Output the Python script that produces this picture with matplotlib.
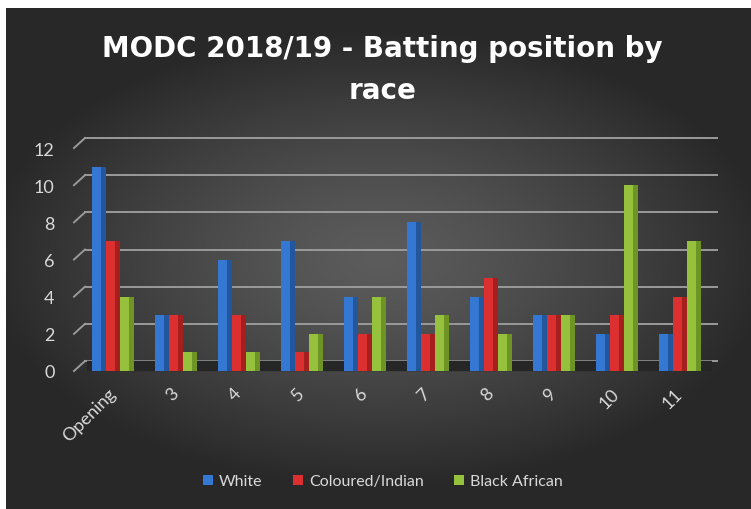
import numpy as np
import matplotlib
matplotlib.use("Agg")
import matplotlib.pyplot as plt
from matplotlib.transforms import offset_copy
from matplotlib.patches import Patch

# Batting position counts by race, MODC 2018/19
positions = ["Opening", "3", "4", "5", "6", "7", "8", "9", "10", "11"]
white = [11, 3, 6, 7, 4, 8, 4, 3, 2, 2]
coloured_indian = [7, 3, 3, 1, 2, 2, 5, 3, 3, 4]
black_african = [4, 1, 1, 2, 4, 3, 2, 3, 10, 7]
series_names = ["White", "Coloured/Indian", "Black African"]
y_ticks = [0, 2, 4, 6, 8, 10, 12]

face_colors = ["#3478d4", "#dc3030", "#96c13c"]
side_colors = ["#22579e", "#a51f1f", "#6f9426"]
text_color = "#d9d9d9"
grid_color = "#9a9a9a"

plt.rcParams["font.family"] = ["Lato", "DejaVu Sans"]

fig = plt.figure(figsize=(7.51, 5.10), dpi=100)
fig.patch.set_facecolor("white")

# dark radial gradient background
bg = fig.add_axes([6 / 751, 0, 1 - 6 / 751, 1 - 9 / 510], zorder=-10)
gx, gy = np.meshgrid(np.linspace(-1, 1, 400), np.linspace(-1, 1, 300))
r = np.clip(np.sqrt((gx * 0.95) ** 2 + (gy * 1.1) ** 2), 0, 1)
shade = 0.36 - 0.2 * r ** 1.3
bg.imshow(np.dstack([shade, shade, shade]), aspect="auto", extent=[0, 1, 0, 1])
bg.set_axis_off()

ax = fig.add_axes([74 / 751, 138 / 510, (711.5 - 74) / 751, (372 - 149) / 510])
ax.set_facecolor("none")
ax.set_xlim(-0.62, 9.5)
ax.set_ylim(0, 12)

back = offset_copy(ax.transData, fig=fig, x=11, y=10, units="dots")
mid = offset_copy(ax.transData, fig=fig, x=5.5, y=5, units="dots")

# back-wall gridlines with perspective stubs
for v in y_ticks:
    ax.plot([-0.62, 9.42], [v, v], transform=back, color=grid_color, lw=1.4, zorder=1, clip_on=False)
    ax.plot([-0.62, -0.62 + 11 / 63], [v, v + 10 / 18.6], color=grid_color, lw=1.4, zorder=1, clip_on=False)

# floor
ax.plot([-0.5, 9.42], [0, 0], transform=mid, color="#262626", lw=7.5,
        solid_capstyle="butt", zorder=2, clip_on=False)

x = np.arange(len(positions))
w = 0.22
for i, vals in enumerate([white, coloured_indian, black_african]):
    left = x + (i - 1) * w - w / 2
    # front face + darker side face
    ax.bar(left, vals, width=w * 0.66, align="edge", color=face_colors[i], zorder=3 + i, linewidth=0)
    ax.bar(left + w * 0.64, vals, width=w * 0.36, align="edge", color=side_colors[i],
           zorder=3 + i, linewidth=0)

for s in ax.spines.values():
    s.set_visible(False)
ax.set_yticks(y_ticks)
ax.set_xticks(x)
ax.set_xticklabels(positions, rotation=45, ha="right", va="center", rotation_mode="anchor")
ax.tick_params(axis="both", length=0, colors=text_color, labelsize=13)
ax.tick_params(axis="y", pad=14)
ax.tick_params(axis="x", pad=14)

title_kw = dict(ha="center", va="baseline", color="white", fontsize=20,
                fontweight="bold", family="DejaVu Sans")
fig.text(0.509, 0.888, "MODC 2018/19 - Batting position by", **title_kw)
fig.text(0.509, 0.806, "race", **title_kw)

handles = [Patch(facecolor=c, edgecolor="none") for c in face_colors]
fig.legend(handles, series_names, loc="center", bbox_to_anchor=(0.51, 0.054), ncol=3,
           frameon=False, fontsize=11.5, labelcolor=text_color, handlelength=0.6,
           handleheight=0.6, handletextpad=0.4, columnspacing=1.9)

fig.savefig("out.png", dpi=100, facecolor=fig.get_facecolor())
